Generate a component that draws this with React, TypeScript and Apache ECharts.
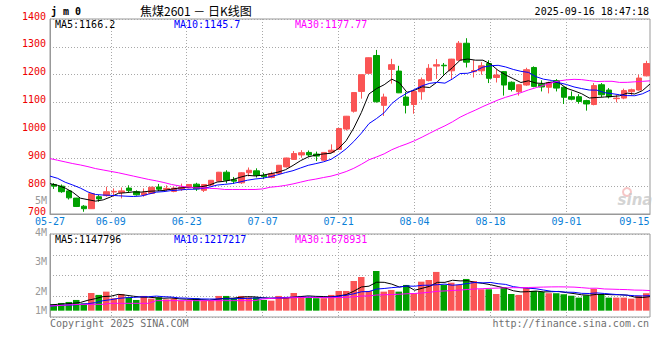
import { useEffect, useRef } from 'react';
import * as echarts from 'echarts';

const dates = [
  '05-27', '05-28', '05-29', '05-30',
  '06-03', '06-04', '06-05', '06-06', '06-09', '06-10', '06-11', '06-12', '06-13',
  '06-16', '06-17', '06-18', '06-19', '06-20', '06-23', '06-24', '06-25', '06-26', '06-27', '06-30',
  '07-01', '07-02', '07-03', '07-04', '07-07', '07-08', '07-09', '07-10', '07-11',
  '07-14', '07-15', '07-16', '07-17', '07-18', '07-21', '07-22', '07-23', '07-24', '07-25',
  '07-28', '07-29', '07-30', '07-31', '08-01', '08-04', '08-05', '08-06', '08-07', '08-08',
  '08-11', '08-12', '08-13', '08-14', '08-15', '08-18', '08-19', '08-20', '08-21', '08-22',
  '08-25', '08-26', '08-27', '08-28', '08-29', '09-01', '09-02', '09-03', '09-04', '09-05',
  '09-08', '09-09', '09-10', '09-11', '09-12', '09-15', '09-16',
];

const opens = [
  806, 800, 783, 757, 728, 719, 762, 766, 779, 777,
  793, 780, 768, 774, 797, 788, 781, 789, 794, 807,
  785, 804, 818, 850, 823, 812, 848, 855, 839, 831,
  845, 869, 896, 912, 921, 915, 893, 922, 932, 1005,
  1069, 1140, 1205, 1269, 1090, 1219, 1213, 1120, 1093, 1139,
  1179, 1231, 1234, 1214, 1252, 1313, 1211, 1214, 1240, 1190,
  1211, 1173, 1139, 1163, 1226, 1166, 1155, 1179, 1155, 1121,
  1121, 1107, 1093, 1164, 1145, 1114, 1116, 1139, 1145, 1196,
];
const closes = [
  800, 780, 758, 727, 719, 773, 754, 780, 781, 783,
  784, 769, 776, 796, 789, 792, 793, 796, 806, 790,
  806, 821, 850, 821, 818, 848, 857, 839, 834, 845,
  875, 901, 917, 920, 912, 908, 921, 929, 1007, 1051,
  1136, 1200, 1261, 1103, 1120, 1236, 1135, 1090, 1140, 1182,
  1223, 1236, 1232, 1256, 1313, 1245, 1215, 1232, 1187, 1199,
  1163, 1147, 1164, 1218, 1158, 1156, 1172, 1152, 1119, 1112,
  1104, 1095, 1161, 1128, 1121, 1116, 1143, 1146, 1188, 1240,
];
const lows = [
  790, 776, 752, 725, 708, 718, 744, 762, 762, 756,
  777, 766, 762, 772, 782, 783, 778, 783, 792, 783,
  779, 800, 816, 810, 808, 808, 835, 831, 825, 828,
  843, 867, 894, 902, 905, 890, 890, 920, 930, 1000,
  1064, 1114, 1203, 1100, 1052, 1168, 1134, 1061, 1060, 1110,
  1176, 1185, 1200, 1185, 1250, 1226, 1190, 1200, 1170, 1172,
  1125, 1140, 1125, 1160, 1155, 1140, 1133, 1140, 1095, 1108,
  1096, 1071, 1090, 1120, 1115, 1101, 1112, 1127, 1143, 1194,
];
const highs = [
  811, 806, 785, 758, 732, 774, 768, 798, 792, 795,
  803, 785, 792, 798, 808, 803, 797, 809, 807, 812,
  807, 822, 851, 857, 833, 850, 867, 864, 848, 852,
  876, 902, 926, 929, 928, 924, 921, 950, 1008, 1052,
  1137, 1201, 1262, 1289, 1132, 1257, 1232, 1138, 1145, 1190,
  1238, 1256, 1242, 1257, 1321, 1331, 1252, 1245, 1252, 1220,
  1213, 1176, 1165, 1225, 1230, 1180, 1175, 1184, 1157, 1140,
  1130, 1110, 1170, 1170, 1152, 1127, 1150, 1150, 1200, 1250,
];

const volumes = [
  565000, 680000, 768000, 945000, 650000, 1560000, 1390000, 1680000, 1100000, 1470000,
  1180000, 945000, 1300000, 1060000, 1180000, 1000000, 1100000, 883000, 883000, 1100000,
  883000, 883000, 1300000, 1300000, 1100000, 1300000, 1180000, 1180000, 945000, 883000,
  1300000, 1180000, 1560000, 1300000, 1180000, 1100000, 1100000, 1390000, 1740000, 1740000,
  2620000, 2970000, 1740000, 3500000, 1680000, 1830000, 1680000, 2270000, 1540000, 2560000,
  2710000, 3420000, 2270000, 2470000, 2270000, 2800000, 2620000, 1890000, 1890000, 1470000,
  2060000, 1470000, 1390000, 2000000, 1740000, 1680000, 1540000, 1540000, 1450000, 1320000,
  1150000, 1350000, 1920000, 1470000, 1150000, 1150000, 1150000, 1060000, 1300000, 1540000,
];

// moving-average values before enough history exists
const ma5Head = [809, 803, 793, 778];
const ma10Head = [836, 828, 814, 804, 793, 779, 770, 768, 767];
const ma30Head = [
  899, 893, 887, 881, 876, 870, 863, 858, 853, 848,
  842, 836, 830, 824, 819, 813, 806, 801, 797, 794,
  794, 792, 791, 788, 788, 788, 788, 788, 790,
];
const volMa5Head = [500000, 560000, 600000, 650000];
const volMa10Head = [411000, 450000, 490000, 500000, 559000, 620000, 706000, 882000, 970000];
const volMa30Head = [
  411000, 450000, 490000, 525000, 559000, 559000, 559000, 559000, 647000, 647000,
  647000, 647000, 647000, 647000, 882000, 882000, 882000, 882000, 882000, 882000,
  882000, 882000, 882000, 882000, 882000, 882000, 882000, 882000, 1030000,
];

const priceMin = 700;
const priceMax = 1400;
const priceStep = 100;
const dateLabelIdx = [0, 8, 18, 28, 38, 48, 58, 68, 78];
const dateGridIdx = [8, 18, 28, 38, 48, 58, 68];
const volAxisLabels = ['5M', '4M', '3M', '2M', '1M'];
const priceMaTexts = ['MA5:1166.2', 'MA10:1145.7', 'MA30:1177.77'];
const volMaTexts = ['MA5:1147796', 'MA10:1217217', 'MA30:1678931'];
const titleSymbol = 'j m 0';
const titleText = '焦煤2601 － 日K线图';
const timeText = '2025-09-16 18:47:18';
const copyrightText = 'Copyright 2025 SINA.COM';
const urlText = 'http://finance.sina.com.cn';

function movingAverage(values: number[], n: number, head: number[]) {
  return values.map((_, i) => {
    if (i < n - 1) return head[i];
    let s = 0;
    for (let k = i - n + 1; k <= i; k++) s += values[k];
    return +(s / n).toFixed(2);
  });
}

const UP = '#fa5555';
const DOWN = '#00a000';
const MONO = '"DejaVu Sans Mono", monospace';
const GRID_COLOR = '#a8a8a8';
const AXIS_COLOR = '#999999';
const maColors = ['#000000', '#0000ff', '#ff00ff'];

export default function App() {
  const ref = useRef<HTMLDivElement>(null);

  useEffect(() => {
    if (!ref.current) return;
    const chart = echarts.init(ref.current, undefined, { renderer: 'svg' });

    const candleData = opens.map((o, i) => [o, closes[i], lows[i], highs[i]]);
    const priceMa = [
      movingAverage(closes, 5, ma5Head),
      movingAverage(closes, 10, ma10Head),
      movingAverage(closes, 30, ma30Head),
    ];
    const volMa = [
      movingAverage(volumes, 5, volMa5Head),
      movingAverage(volumes, 10, volMa10Head),
      movingAverage(volumes, 30, volMa30Head),
    ];
    const volData = volumes.map((v, i) => ({
      value: v,
      itemStyle: { color: closes[i] >= opens[i] ? UP : DOWN },
    }));

    const dotted = { color: GRID_COLOR, width: 1, type: [1, 2] as any };
    const textEl = (
      text: string,
      x: number,
      y: number,
      fill: string,
      align: string = 'left',
      font: string = `10px ${MONO}`,
    ) => ({
      type: 'text',
      x,
      y,
      z: 100,
      silent: true,
      style: {
        text,
        fill,
        font,
        align,
        textAlign: align,
        verticalAlign: 'middle',
        textVerticalAlign: 'middle',
      },
    });

    const maTextX = [55, 174, 295];
    const volLabelY = [200, 232, 261, 291, 310.5];

    const graphic: any[] = [
      textEl(titleSymbol, 51, 11.5, '#000', 'left', `bold 10px ${MONO}`),
      textEl(titleText, 140, 10.5, '#000', 'left', '12px "Noto Sans CJK SC", sans-serif'),
      textEl(timeText, 649, 11.5, '#000', 'right'),
      ...priceMaTexts.map((t, i) => textEl(t, maTextX[i], 24, maColors[i])),
      ...volMaTexts.map((t, i) => textEl(t, maTextX[i], 239, maColors[i])),
      ...volAxisLabels.map((t, i) => textEl(t, 47, volLabelY[i], '#999999', 'right')),
      textEl(copyrightText, 50, 323.5, '#707070'),
      textEl(urlText, 649, 323.5, '#707070', 'right'),
      {
        type: 'circle',
        z: 1,
        silent: true,
        shape: { cx: 627, cy: 192, r: 4 },
        style: { fill: 'none', stroke: '#f6c6c6', lineWidth: 2 },
      },
      textEl('sina', 635, 200, 'rgba(200,200,200,0.8)', 'center', 'italic bold 15px "DejaVu Sans", sans-serif'),
    ];

    const option: any = {
      animation: false,
      backgroundColor: '#ffffff',
      grid: [
        { left: 50, top: 19, width: 600, height: 195, show: true, borderColor: AXIS_COLOR, borderWidth: 1 },
        { left: 50, top: 234, width: 600, height: 83, show: true, borderColor: AXIS_COLOR, borderWidth: 1 },
      ],
      xAxis: [
        {
          type: 'category',
          gridIndex: 0,
          data: dates,
          boundaryGap: false,
          position: 'bottom',
          axisLine: { show: true, onZero: false, lineStyle: { color: AXIS_COLOR } },
          axisTick: { show: false },
          axisLabel: {
            interval: (i: number) => dateLabelIdx.includes(i),
            color: '#0a80d8',
            fontFamily: MONO,
            fontSize: 10,
            margin: 2,
            formatter: (v: string, i: number) => (i === dateLabelIdx[dateLabelIdx.length - 1] ? `{r|${v}}` : v),
            rich: { r: { padding: [0, 16, 0, 0], color: '#0a80d8', fontFamily: MONO, fontSize: 10 } },
          },
          splitLine: { show: true, interval: (i: number) => dateGridIdx.includes(i), lineStyle: dotted },
        },
        {
          type: 'category',
          gridIndex: 0,
          data: dates,
          boundaryGap: true,
          position: 'bottom',
          show: false,
        },
        {
          type: 'category',
          gridIndex: 1,
          data: dates,
          boundaryGap: false,
          position: 'bottom',
          axisLine: { show: false, onZero: false },
          axisTick: { show: false },
          axisLabel: { show: false },
          splitLine: { show: true, interval: (i: number) => dateGridIdx.includes(i), lineStyle: dotted },
        },
        {
          type: 'category',
          gridIndex: 1,
          data: dates,
          boundaryGap: true,
          position: 'bottom',
          show: false,
        },
      ],
      yAxis: [
        {
          type: 'value',
          gridIndex: 0,
          min: priceMin,
          max: priceMax,
          interval: priceStep,
          position: 'left',
          axisLine: { show: true, lineStyle: { color: AXIS_COLOR } },
          axisTick: { show: false },
          axisLabel: {
            color: '#ee0000',
            fontFamily: MONO,
            fontSize: 10,
            margin: 4,
            lineHeight: 6,
            verticalAlign: 'bottom',
            formatter: (v: number) => String(v),
          },
          splitLine: { show: true, lineStyle: dotted },
        },
        {
          type: 'value',
          gridIndex: 1,
          min: -560000,
          max: 6770000,
          show: false,
        },
        {
          type: 'value',
          gridIndex: 1,
          min: 0,
          max: 4,
          interval: 1,
          position: 'left',
          axisLine: { show: true, lineStyle: { color: AXIS_COLOR } },
          axisTick: { show: false },
          axisLabel: { show: false },
          splitLine: { show: true, lineStyle: dotted },
        },
      ],
      series: [
        {
          type: 'candlestick',
          xAxisIndex: 1,
          yAxisIndex: 0,
          data: candleData,
          barWidth: 6,
          itemStyle: { color: UP, color0: DOWN, borderColor: UP, borderColor0: DOWN, borderWidth: 1 },
          z: 2,
        },
        ...priceMa.map((d, i) => ({
          type: 'line',
          xAxisIndex: 0,
          yAxisIndex: 0,
          data: d,
          symbol: 'none',
          silent: true,
          lineStyle: { color: maColors[i], width: 1 },
          z: 3,
        })),
        {
          type: 'bar',
          xAxisIndex: 3,
          yAxisIndex: 1,
          data: volData,
          barWidth: 6.5,
          z: 2,
        },
        ...volMa.map((d, i) => ({
          type: 'line',
          xAxisIndex: 2,
          yAxisIndex: 1,
          data: d,
          symbol: 'none',
          silent: true,
          lineStyle: { color: maColors[i], width: 1 },
          z: 3,
        })),
      ],
      graphic,
    };

    chart.setOption(option);
    return () => chart.dispose();
  }, []);

  return (
    <div
      ref={ref}
      style={{ position: 'fixed', left: 0, top: 0, width: 660, height: 360, background: '#fff' }}
    />
  );
}
